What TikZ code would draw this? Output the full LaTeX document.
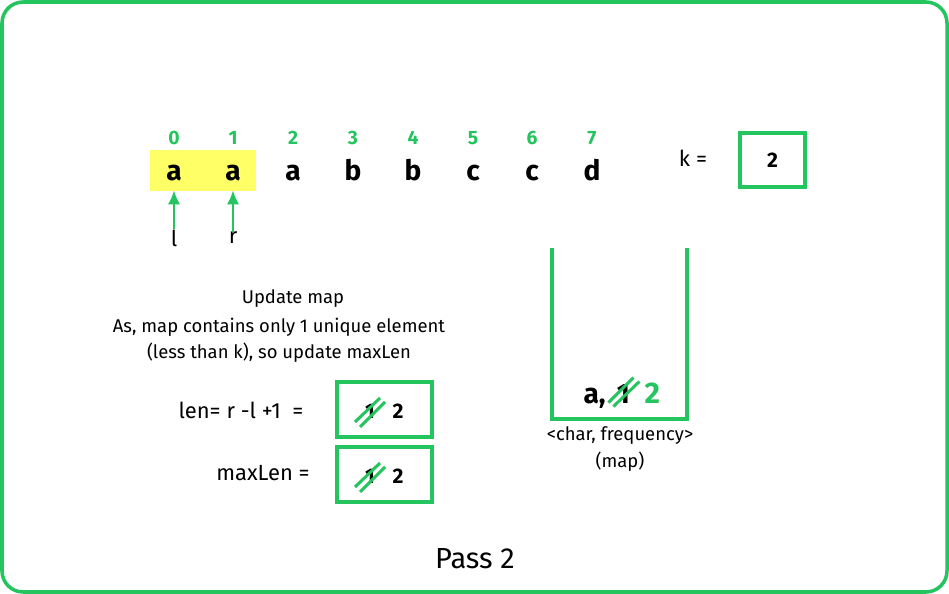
\documentclass[tikz,border=0pt]{standalone}
\usepackage{fontspec}
\setmainfont{Fira Sans}
\usetikzlibrary{arrows.meta, positioning, calc}
\definecolor{gfggreen}{RGB}{36,196,94}
\definecolor{hiyellow}{RGB}{255,255,102}
\tikzstyle{letter} = [font=\bfseries\fontsize{16}{18}\selectfont, text height=12pt, text depth=0pt, minimum height=0.8cm, inner sep=0pt]
\tikzstyle{index} = [font=\bfseries\fontsize{11}{13}\selectfont, text=gfggreen, inner sep=0pt]
\tikzstyle{txt} = [font=\fontsize{10.5}{15}\selectfont, align=center, inner sep=0pt]
\tikzstyle{lbl} = [font=\fontsize{12.5}{15}\selectfont, inner sep=0pt]
\tikzstyle{valbox} = [draw=gfggreen, line width=1.8pt, minimum width=1.9cm, minimum height=1.1cm]
\tikzstyle{val} = [font=\bfseries\fontsize{12}{14}\selectfont, inner sep=0pt]
\tikzstyle{strike} = [draw=gfggreen, line width=1.7pt]
\tikzstyle{ptr} = [draw=gfggreen, line width=1.3pt, -{Latex[length=8pt,width=7pt]}]

\begin{document}
\begin{tikzpicture}[x=0.02cm,y=-0.02cm,node distance=.5cm]
  \fill[white] (0,0) rectangle (949,594);
  \draw[gfggreen, line width=2pt, rounded corners=12] (2,2) rectangle (947,592);

  % string with window
  \fill[hiyellow] (150,150) rectangle (256,191);
  \foreach \ch/\xx [count=\i from 0] in {a/174,a/233,a/293,b/353,b/413,c/473,c/532,d/592} {
    \node[letter] (c\i) at (\xx,170) {\ch};
    \node[index] (i\i) at (\xx,138) {\i};
  }
  \node[lbl] (lp) at (174,238) {l};
  \node[lbl] (rp) at (233,238) {r};
  \draw[ptr] (lp.north) -- (c0.south);
  \draw[ptr] (rp.north) -- (c1.south);

  \node[lbl] (klbl) at (693,158) {k =};
  \node[valbox, minimum width=1.3cm, minimum height=1.08cm] (kbox) at (772.5,160) {};
  \node[val] at (kbox) {2};

  % map
  \draw[gfggreen, line width=2.3pt] (552,248) |- (687,419) -- (687,248);
  \node[letter, text height=, anchor=base east] (mkey) at (606,403) {a,};
  \node[letter, text height=, right=6pt of mkey.base east, anchor=base west] (mold) {1};
  \node[letter, text height=, text=gfggreen, right=8pt of mold.base east, anchor=base west, font=\bfseries\fontsize{17}{19}\selectfont] (mnew) {2};
  \draw[strike] ($(mold.center)+(-15,9)$) -- ($(mold.center)+(10,-16)$);
  \draw[strike] ($(mold.center)+(-10,13)$) -- ($(mold.center)+(16,-12)$);
  \node[txt] (maplbl) at (620,449) {<char, frequency>\\(map)};

  % notes
  \node[txt] (upd) at (293,299) {Update map};
  \node[txt] (why) at (279,340) {As, map contains only 1 unique element\\(less than k), so update maxLen};

  \node[lbl] (lenlbl) at (241,410) {len= r -l +1 \ =};
  \node[valbox] (lenbox) at (384.5,409.5) {};
  \node[val] (lenold) at (370,411) {1};
  \node[val] (lennew) at (398,411) {2};
  \draw[strike] ($(lenold.center)+(-15,11)$) -- ($(lenold.center)+(10,-13)$);
  \draw[strike] ($(lenold.center)+(-10,16)$) -- ($(lenold.center)+(15,-9)$);

  \node[lbl] (maxlbl) at (263,473) {maxLen =};
  \node[valbox] (maxbox) at (384.5,474.5) {};
  \node[val] (maxold) at (370,476) {1};
  \node[val] (maxnew) at (398,476) {2};
  \draw[strike] ($(maxold.center)+(-15,11)$) -- ($(maxold.center)+(10,-13)$);
  \draw[strike] ($(maxold.center)+(-10,16)$) -- ($(maxold.center)+(15,-9)$);

  \node[txt, font=\fontsize{16.5}{19}\selectfont] (pass) at (475,559) {Pass 2};
\end{tikzpicture}
\end{document}
